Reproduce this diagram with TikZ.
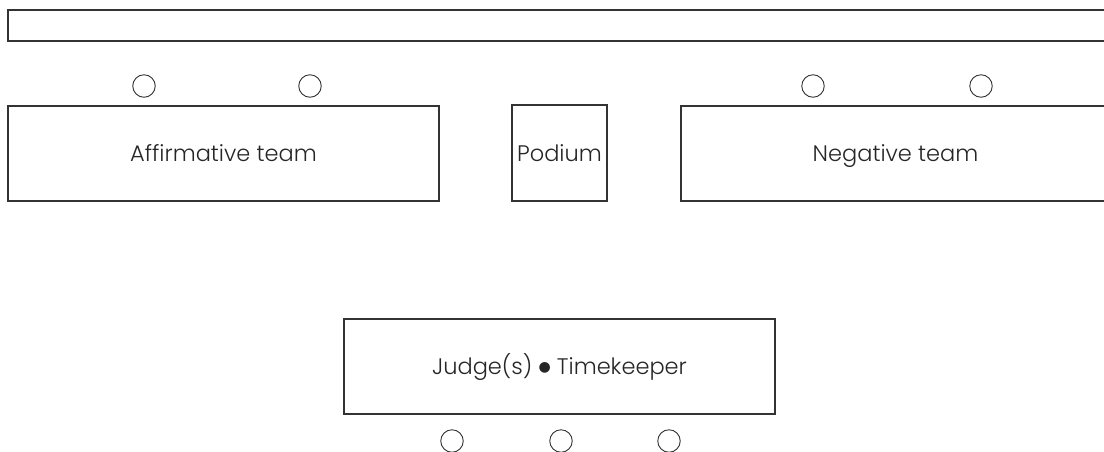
\documentclass[tikz,border=0pt]{standalone}
\usepackage{fontspec}
\setmainfont{Poppins}[UprightFont={* Light}]
\newfontfamily\symfont{DejaVu Sans}
\newcommand{\bigdot}{\raisebox{2.6pt}{\symfont\fontsize{14}{14}\selectfont ●}}
\begin{document}
\begin{tikzpicture}[x=1pt,y=-1pt,
  box/.style={draw=black!80,line width=1.1pt,rectangle,inner sep=0pt,
    text height=20pt,text depth=4pt,
    font=\fontsize{22.5}{26}\selectfont,text=black!85},
  seat/.style={circle,draw=black!80,line width=0.9pt,minimum size=22.5pt,inner sep=0pt}]
\useasboundingbox (0,0) rectangle (1104,451);
\clip (0,0) rectangle (1104,451);
% stage edge along the top
\node[box,minimum width=1102pt,minimum height=31pt,text height=0pt,text depth=0pt] (stage) at (559,25.5) {};
% team tables and podium
\node[box,minimum width=431pt,minimum height=95pt] (aff) at (223.5,153.5) {Affirmative team};
\node[box,minimum width=95pt,minimum height=96pt] (podium) at (559.5,153) {Podium};
\node[box,minimum width=429pt,minimum height=95pt] (neg) at (895.5,153.5) {Negative team};
% judges' table
\node[box,minimum width=431pt,minimum height=95pt] (judges) at (559.5,366.5) {Judge(s) \bigdot\ Timekeeper};
% seats
\node[seat] (a1) at (144,86) {};
\node[seat] (a2) at (310,86) {};
\node[seat] (n1) at (813,86) {};
\node[seat] (n2) at (981,86) {};
\node[seat] (j1) at (452,441) {};
\node[seat] (j2) at (561,441) {};
\node[seat] (j3) at (669,441) {};
\end{tikzpicture}
\end{document}
